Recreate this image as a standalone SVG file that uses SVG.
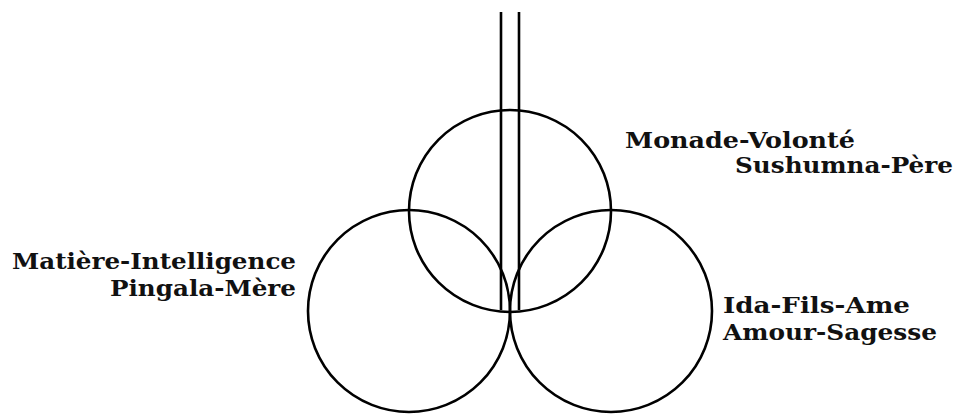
<svg xmlns="http://www.w3.org/2000/svg" width="962" height="416" viewBox="0 0 962 416">
<style>
.c{fill:none;stroke:#000;stroke-width:2.6}
.l{stroke:#000;stroke-width:2.6;fill:none}
.t{font-family:"DejaVu Serif","Liberation Serif",serif;font-size:23px;font-weight:bold;fill:#111}
</style>
<rect width="962" height="416" fill="#fff"/>
<g id="connectors">
<line class="l" x1="501" y1="12" x2="501" y2="310"/>
<line class="l" x1="519" y1="12" x2="519" y2="310"/>
</g>
<g id="top"><circle class="c" cx="510" cy="211" r="101"/></g>
<g id="left"><circle class="c" cx="409" cy="311" r="101"/></g>
<g id="right"><circle class="c" cx="611" cy="311" r="101"/></g>
<g id="label-top">
<text class="t" x="625" y="148" textLength="230" lengthAdjust="spacingAndGlyphs">Monade-Volonté</text>
<text class="t" x="735" y="173" textLength="218" lengthAdjust="spacingAndGlyphs">Sushumna-Père</text>
</g>
<g id="label-left">
<text class="t" x="12" y="269" textLength="284" lengthAdjust="spacingAndGlyphs">Matière-Intelligence</text>
<text class="t" x="110" y="296" textLength="186" lengthAdjust="spacingAndGlyphs">Pingala-Mère</text>
</g>
<g id="label-right">
<text class="t" x="723" y="313" textLength="187" lengthAdjust="spacingAndGlyphs">Ida-Fils-Ame</text>
<text class="t" x="723" y="340" textLength="214" lengthAdjust="spacingAndGlyphs">Amour-Sagesse</text>
</g>
</svg>
